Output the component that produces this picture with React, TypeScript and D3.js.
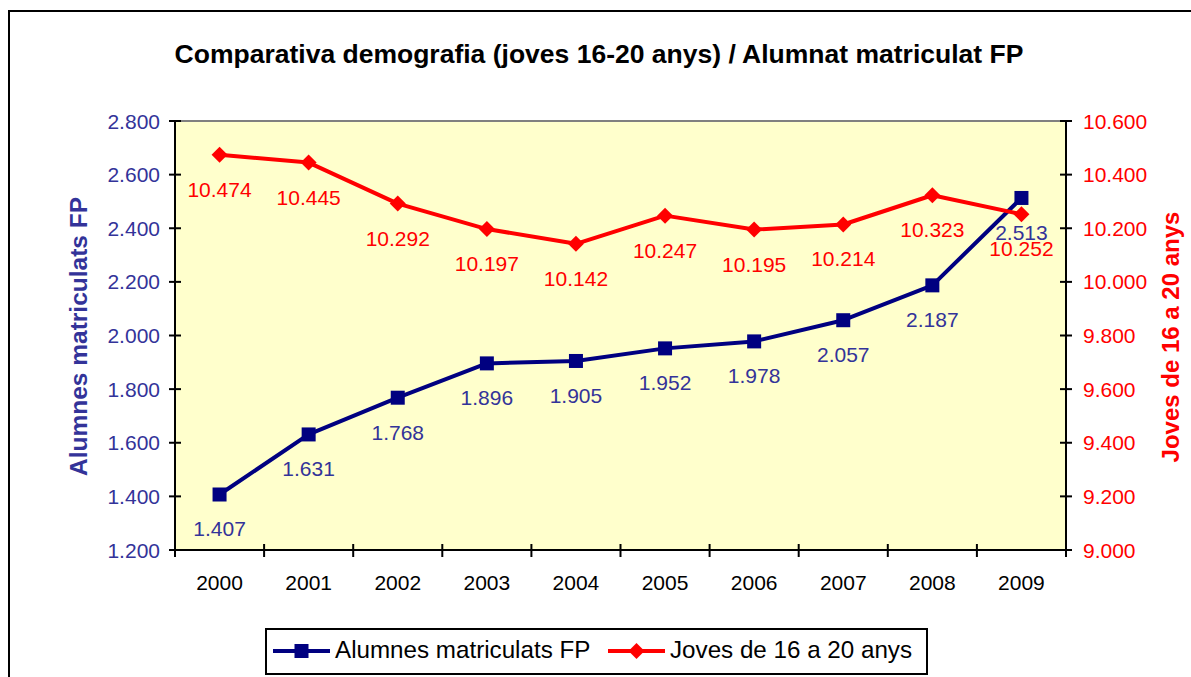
import React from "react";
import * as d3 from "d3";

const years = ["2000","2001","2002","2003","2004","2005","2006","2007","2008","2009"];
const alumnes = [1407,1631,1768,1896,1905,1952,1978,2057,2187,2513];
const joves = [10474,10445,10292,10197,10142,10247,10195,10214,10323,10252];
const leftTicks = [1200,1400,1600,1800,2000,2200,2400,2600,2800];
const rightTicks = [9000,9200,9400,9600,9800,10000,10200,10400,10600];

const W = 1191, H = 677;
const L = 175, R = 1066, T = 121, B = 550;
const FONT = "'Liberation Sans', Arial, sans-serif";
const BLUE = "#000080";
const BLUE_TXT = "#333399";
const RED = "#ff0000";

const fmt = (v: number) => d3.format(".3f")(v / 1000);

export default function App() {
  const x = d3.scaleBand<string>().domain(years).range([L, R]);
  const yL = d3.scaleLinear().domain([1200, 2800]).range([B, T]);
  const yR = d3.scaleLinear().domain([9000, 10600]).range([B, T]);
  const cx = (d: string) => (x(d) as number) + x.bandwidth() / 2;
  const lineL = d3.line<number>().x((_, i) => cx(years[i])).y((d) => yL(d));
  const lineR = d3.line<number>().x((_, i) => cx(years[i])).y((d) => yR(d));
  const diamond = (px: number, py: number, s: number) =>
    `M${px},${py - s}L${px + s},${py}L${px},${py + s}L${px - s},${py}Z`;
  const boundaries = years.map((d) => x(d) as number).concat([R]);

  return (
    <svg width={W} height={H} style={{ position: "absolute", left: 0, top: 0, background: "#fff" }} fontFamily={FONT}>
      <rect x={9} y={11} width={1300} height={800} fill="#fff" stroke="#000" strokeWidth={2} />
      <text x={599} y={63} textAnchor="middle" fontWeight="bold" fontSize={26.5} fill="#000">
        Comparativa demografia (joves 16-20 anys) / Alumnat matriculat FP
      </text>
      <rect x={L} y={T} width={R - L} height={B - T} fill="#ffffcc" />
      <line x1={L} x2={R} y1={T} y2={T} stroke="#808080" strokeWidth={2} />
      <line x1={L} x2={L} y1={T} y2={B} stroke="#000" strokeWidth={2} />
      <line x1={R} x2={R} y1={T} y2={B} stroke="#000" strokeWidth={2} />
      <line x1={L} x2={R} y1={B} y2={B} stroke="#000" strokeWidth={2} />
      {leftTicks.map((t) => (
        <g key={"l" + t}>
          <line x1={L - 6} x2={L + 6} y1={yL(t)} y2={yL(t)} stroke="#000" strokeWidth={2} />
          <text x={160} y={yL(t) + 7.5} textAnchor="end" fontSize={21} fill={BLUE_TXT}>{fmt(t)}</text>
        </g>
      ))}
      {rightTicks.map((t) => (
        <g key={"r" + t}>
          <line x1={R - 6} x2={R + 6} y1={yR(t)} y2={yR(t)} stroke="#000" strokeWidth={2} />
          <text x={1083} y={yR(t) + 7.5} textAnchor="start" fontSize={21} fill={RED}>{fmt(t)}</text>
        </g>
      ))}
      {boundaries.map((b, i) => (
        <line key={"b" + i} x1={b} x2={b} y1={B - 6} y2={B + 7} stroke="#000" strokeWidth={2} />
      ))}
      {years.map((d) => (
        <text key={"x" + d} x={cx(d)} y={590} textAnchor="middle" fontSize={21} fill="#000">{d}</text>
      ))}
      <text transform={`translate(87,336.5) rotate(-90)`} textAnchor="middle" fontWeight="bold" fontSize={24.5} fill={BLUE_TXT}>
        Alumnes matriculats FP
      </text>
      <text transform={`translate(1179,337) rotate(-90)`} textAnchor="middle" fontWeight="bold" fontSize={24} fill={RED}>
        Joves de 16 a 20 anys
      </text>
      <path d={lineL(alumnes) as string} fill="none" stroke={BLUE} strokeWidth={4} strokeLinejoin="round" />
      {alumnes.map((v, i) => (
        <rect key={"m" + i} x={cx(years[i]) - 7} y={yL(v) - 7} width={14} height={14} fill={BLUE} />
      ))}
      <path d={lineR(joves) as string} fill="none" stroke={RED} strokeWidth={4} strokeLinejoin="round" />
      {joves.map((v, i) => (
        <path key={"d" + i} d={diamond(cx(years[i]), yR(v), 8)} fill={RED} />
      ))}
      {alumnes.map((v, i) => (
        <text key={"la" + i} x={cx(years[i])} y={yL(v) + 42} textAnchor="middle" fontSize={21} fill={BLUE_TXT}>{fmt(v)}</text>
      ))}
      {joves.map((v, i) => (
        <text key={"lj" + i} x={cx(years[i])} y={yR(v) + 42} textAnchor="middle" fontSize={21} fill={RED}>{fmt(v)}</text>
      ))}
      <rect x={266} y={629} width={661} height={45} fill="#fff" stroke="#000" strokeWidth={2} />
      <line x1={273} x2={330} y1={651} y2={651} stroke={BLUE} strokeWidth={4} />
      <rect x={294.5} y={644} width={14} height={14} fill={BLUE} />
      <text x={335} y={658} fontSize={24.2} fill="#000">Alumnes matriculats FP</text>
      <line x1={608} x2={665} y1={651} y2={651} stroke={RED} strokeWidth={4} />
      <path d={diamond(636.5, 651, 8)} fill={RED} />
      <text x={670} y={658} fontSize={24.2} fill="#000">Joves de 16 a 20 anys</text>
    </svg>
  );
}
